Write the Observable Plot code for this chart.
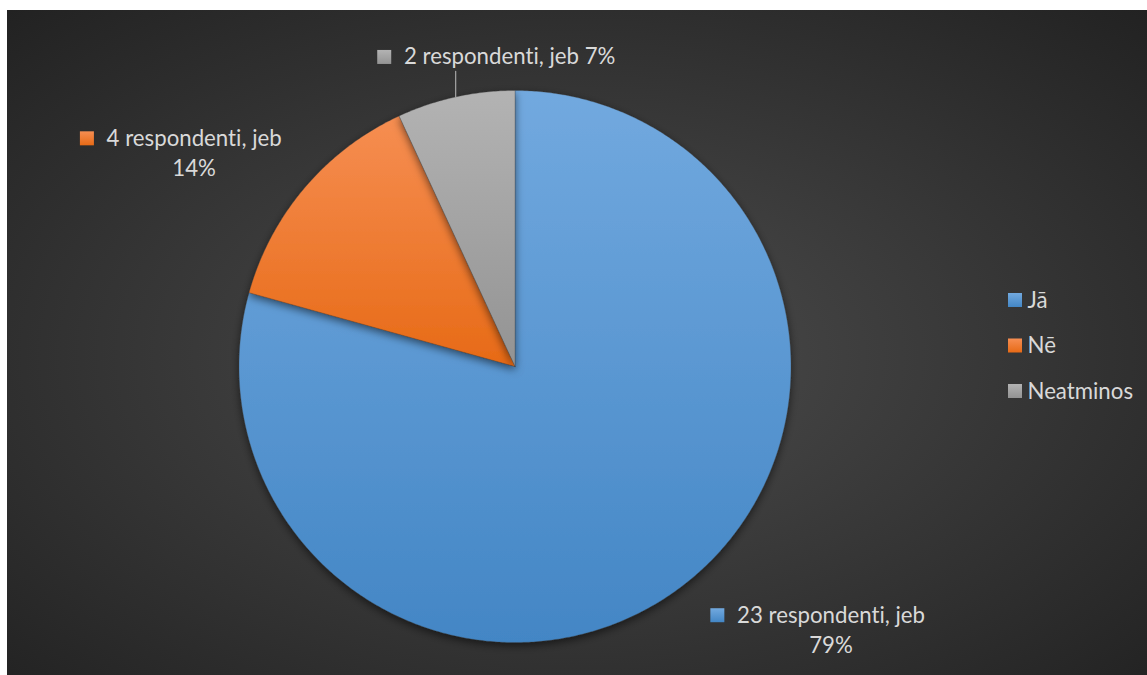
<!DOCTYPE html>
<html><head><meta charset="utf-8">
<script src="https://cdn.jsdelivr.net/npm/d3@7"></script>
<script src="https://cdn.jsdelivr.net/npm/@observablehq/plot@0.6"></script>
<style>body{margin:0;background:#fff;overflow:hidden} svg text{font-variant-ligatures:none;font-feature-settings:"liga" 0,"clig" 0;}</style>
</head><body><div id="chart"></div>
<script>
// ---- data ----
const categories = ["Jā", "Nē", "Neatminos"];
const values = [23, 4, 2];
const labelTexts = [["23 respondenti, jeb", "79%"], ["4 respondenti, jeb", "14%"], ["2 respondenti, jeb 7%"]];
const gradStops = [["#72a9df", "#4386c5"], ["#f68e52", "#e76a16"], ["#b3b3b3", "#939393"]];

// ---- layout ----
const W = 1147, H = 675;
const cx = 514.5, cy = 366, R = 276;
const fontFamily = "Lato, 'Open Sans', sans-serif";
// label nudges relative to slice's outer-arc midpoint (px): [dx, dy] of first-line baseline centre
const labelNudge = [[149, 36.5], [-110.5, -42], [54, -32.5]];
const leader = [false, false, true];
const lineH = 30;
const sq = 14;

const ctx = document.createElement("canvas").getContext("2d");
ctx.font = `100px ${fontFamily}`;
const fs = 100 * 212 / ctx.measureText("2 respondenti, jeb 7%").width;
ctx.font = `${fs}px ${fontFamily}`;

const total = d3.sum(values);
const arcs = d3.pie().sort(null).startAngle(0).endAngle(2 * Math.PI)(values);
const pt = (a, r) => ({x: cx + r * Math.sin(a), y: cy - r * Math.cos(a)});

const fills = categories.map((c, i) => `url(#grad${i})`);

const sliceMarks = arcs.map((a, i) => {
  const pts = [{x: cx, y: cy}];
  const n = Math.max(2, Math.ceil((a.endAngle - a.startAngle) / (Math.PI / 360)));
  for (let k = 0; k <= n; k++) pts.push(pt(a.startAngle + (a.endAngle - a.startAngle) * k / n, R));
  pts.push({x: cx, y: cy});
  return Plot.line(pts, {x: "x", y: "y", fill: fills[i], stroke: "#3a3a3a", strokeOpacity: 0.35, strokeWidth: 0.8, curve: "linear"});
});

// data labels
const labelRows = [], labelSquares = [], leaders = [];
arcs.forEach((a, i) => {
  const mid = (a.startAngle + a.endAngle) / 2;
  const m = pt(mid, R);
  const bx = m.x + labelNudge[i][0], by = m.y + labelNudge[i][1];
  labelTexts[i].forEach((t, j) => labelRows.push({x: bx, y: by + j * lineH, text: t}));
  const w = ctx.measureText(labelTexts[i][0]).width;
  const x2 = bx - w / 2 - 12;
  labelSquares.push({x1: x2 - sq, x2: x2, y1: by - sq, y2: by, fill: fills[i]});
  if (leader[i]) leaders.push({x: m.x, y: m.y, k: i}, {x: m.x, y: by + 7, k: i});
});

// legend
const legendRows = categories.map((c, i) => ({text: c, x: 1027, y: 307 + i * 45.5, fill: fills[i]}));

const chart = Plot.plot({
  width: W, height: H,
  margin: 0,
  x: {domain: [0, W], range: [0, W], axis: null},
  y: {domain: [0, H], range: [0, H], axis: null},
  color: {type: "identity"},
  style: {fontFamily, background: "transparent"},
  marks: [
    Plot.rect([0], {x1: 7, x2: W, y1: 10, y2: H, fill: "url(#bg)"}),
    ...sliceMarks,
    Plot.line(leaders, {x: "x", y: "y", z: "k", stroke: "#a6a6a6", strokeWidth: 1.2}),
    Plot.rect(labelSquares, {x1: "x1", x2: "x2", y1: "y1", y2: "y2", fill: "fill"}),
    Plot.text(labelRows, {x: "x", y: "y", text: "text", textAnchor: "middle", lineAnchor: "bottom", fill: "#d9d9d9", fontSize: fs}),
    Plot.rect(legendRows, {x1: d => d.x - 19, x2: d => d.x - 5, y1: d => d.y - sq, y2: "y", fill: "fill"}),
    Plot.text(legendRows, {x: "x", y: "y", text: "text", textAnchor: "start", lineAnchor: "bottom", fill: "#d9d9d9", fontSize: fs})
  ]
});

// gradients & shadow
const defs = d3.select(chart).insert("defs", ":first-child");
const bg = defs.append("radialGradient").attr("id", "bg").attr("cx", "0.5").attr("cy", "0.52").attr("r", "0.72");
bg.append("stop").attr("offset", "0").attr("stop-color", "#4d4d4d");
bg.append("stop").attr("offset", "1").attr("stop-color", "#222222");
gradStops.forEach((s, i) => {
  const g = defs.append("linearGradient").attr("id", `grad${i}`).attr("x1", 0).attr("y1", 0).attr("x2", 0).attr("y2", 1);
  g.append("stop").attr("offset", "0").attr("stop-color", s[0]);
  g.append("stop").attr("offset", "1").attr("stop-color", s[1]);
});
const f = defs.append("filter").attr("id", "shadow").attr("x", "-10%").attr("y", "-10%").attr("width", "120%").attr("height", "120%");
f.append("feDropShadow").attr("dx", 0).attr("dy", 3).attr("stdDeviation", 4).attr("flood-color", "#000").attr("flood-opacity", 0.55);

const lineGroups = d3.select(chart).selectAll('g[aria-label="line"]').nodes();
lineGroups.slice(0, sliceMarks.length).forEach(n => n.setAttribute("filter", "url(#shadow)"));

document.getElementById("chart").appendChild(chart);
</script>
</body></html>
